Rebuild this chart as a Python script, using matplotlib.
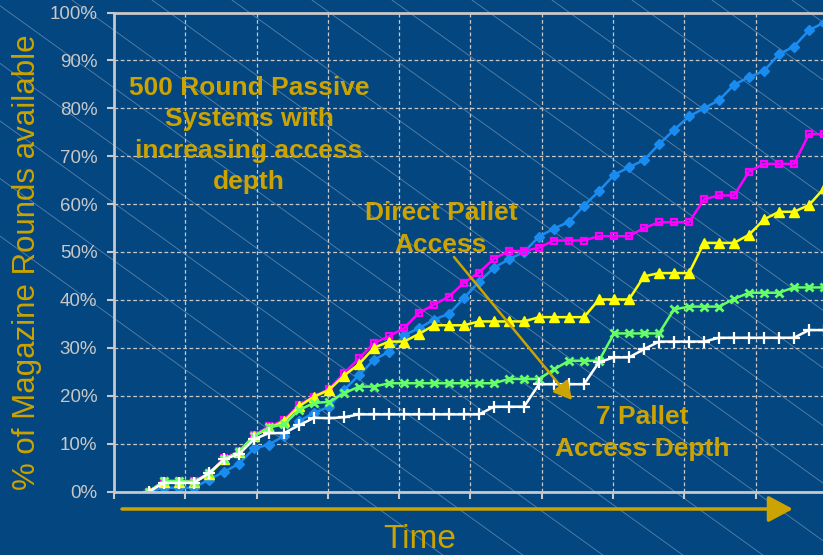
import matplotlib
matplotlib.use('Agg')
import matplotlib.pyplot as plt
from matplotlib.lines import Line2D
from matplotlib.patches import FancyArrowPatch
import numpy as np

plt.rcParams['font.family'] = ['Liberation Sans', 'DejaVu Sans']

# % of magazine rounds available at each time step, per access depth
direct = [0, 0.8, 0.8, 0.8, 2.5, 4.1, 5.8, 9.0, 9.8, 11.6, 14.7, 16.4, 17.7,
          21.2, 24.3, 27.5, 29.2, 32.6, 34.1, 35.9, 37.1, 40.4, 43.8, 46.7, 48.5,
          50.0, 53.2, 54.9, 56.3, 59.7, 62.7, 66.1, 67.7, 69.2, 72.5, 75.5, 78.3,
          80.0, 81.7, 84.9, 86.5, 87.8, 91.3, 92.9, 96.3, 97.9]
depth_a = [0, 2.2, 2.2, 2.2, 3.8, 6.9, 8.4, 11.8, 13.6, 14.9, 18.1, 19.8, 21.4,
           24.7, 27.8, 31.0, 32.4, 34.1, 37.3, 39.0, 40.7, 43.6, 45.7, 48.6, 50.2,
           50.2, 50.9, 52.4, 52.4, 52.4, 53.3, 53.3, 53.3, 55.0, 56.2, 56.2, 56.2,
           61.0, 61.8, 61.8, 66.8, 68.4, 68.4, 68.4, 74.6, 74.6]
depth_b = [0, 2.0, 2.0, 2.0, 3.6, 6.7, 8.2, 11.6, 13.2, 14.7, 17.8, 19.8, 21.2,
           24.2, 26.6, 30.0, 31.3, 31.3, 32.9, 34.7, 34.7, 34.7, 35.5, 35.5, 35.5,
           35.5, 36.4, 36.4, 36.4, 36.4, 40.1, 40.1, 40.1, 44.9, 45.6, 45.6, 45.6,
           51.9, 51.9, 51.9, 53.6, 56.8, 58.4, 58.4, 59.8, 63.3]
depth_c = [0, 2.2, 2.2, 2.0, 3.8, 6.7, 8.3, 11.6, 13.4, 14.0, 17.0, 18.5, 18.7,
           20.5, 21.9, 21.9, 22.6, 22.6, 22.6, 22.6, 22.6, 22.6, 22.6, 22.6, 23.5,
           23.5, 23.5, 25.5, 27.3, 27.3, 27.3, 33.0, 33.0, 33.0, 33.0, 38.0, 38.6,
           38.6, 38.6, 40.2, 41.5, 41.5, 41.5, 42.6, 42.6, 42.6]
depth_7 = [0, 1.8, 1.8, 1.8, 3.8, 6.7, 7.8, 10.9, 12.2, 12.2, 13.8, 15.4, 15.3,
           15.5, 16.1, 16.1, 16.1, 16.1, 16.1, 16.1, 16.1, 16.1, 16.1, 17.7, 17.7,
           17.7, 22.4, 22.4, 22.4, 22.4, 27.0, 28.0, 28.0, 29.7, 31.3, 31.3, 31.3,
           31.3, 32.1, 32.1, 32.1, 32.1, 32.1, 32.1, 33.7, 33.7]
steps = np.arange(len(direct))

bg = '#04467f'
gold = '#cca300'
grey = '#c8c8c8'

fig = plt.figure(figsize=(8.23, 5.55), dpi=100, facecolor=bg)

# diagonal background stripes
for x0 in np.arange(-10 * 80 + 472, 823, 80):
    x1 = x0 + 555 / 0.72
    fig.add_artist(Line2D([x0 / 823, x1 / 823], [1, 0], transform=fig.transFigure,
                          color='#a9bfd6', lw=0.6, alpha=0.5, zorder=-5))

ax = fig.add_axes([114 / 823, 63.5 / 555, 713 / 823, 479 / 555])
ax.patch.set_visible(False)

ax.plot(steps, direct, color='#1a8cf0', lw=1.8, marker='D', ms=5.5, zorder=3)
ax.plot(steps, depth_a, color='#ff00ff', lw=1.8, marker='s', ms=5,
        mfc='none', mew=1.6, zorder=4)
ax.plot(steps, depth_b, color='#ffff00', lw=1.8, marker='^', ms=7.5, zorder=5)
ax.plot(steps, depth_c, color='#66ff66', lw=1.8, marker='x', ms=6, mew=2, zorder=6)
ax.plot(steps, depth_7, color='white', lw=1.8, marker='+', ms=8, mew=1.6, zorder=7)

x_start, x_step = -35 / 15, 71.3 / 15
ax.set_xlim(x_start, x_start + 10 * x_step)
ax.set_xticks(x_start + x_step * np.arange(11))
ax.set_xticklabels([])
ax.set_ylim(0, 100)
ax.set_yticks(np.arange(0, 101, 10))
ax.set_yticklabels([f'{v}%' for v in range(0, 101, 10)])

ax.grid(True, color=grey, lw=0.9, linestyle=(0, (3, 2)))
ax.set_axisbelow(True)
for side in ['left', 'top', 'bottom']:
    ax.spines[side].set_color(grey)
    ax.spines[side].set_linewidth(2)
    ax.spines[side].set_zorder(8)
ax.spines['right'].set_visible(False)
ax.tick_params(axis='both', direction='out', color=grey, width=1.5, length=5)
ax.tick_params(axis='y', labelcolor=grey, labelsize=13.5, pad=7)

fig.text(27 / 823, 1 - 262 / 555, '% of Magazine Rounds available', rotation=90,
         ha='center', va='center', color=gold, fontsize=22.5)
fig.text(420 / 823, 1 - 539 / 555, 'Time', ha='center', va='center',
         color=gold, fontsize=24)

# time arrow under the axis
fig.add_artist(FancyArrowPatch((122 / 823, 1 - 509 / 555), (793 / 823, 1 - 509 / 555),
                               transform=fig.transFigure, color=gold, lw=2.5,
                               arrowstyle='-|>,head_length=15,head_width=8',
                               mutation_scale=1, shrinkA=0, shrinkB=0))

bold = dict(ha='center', va='center', color=gold, fontsize=19,
            fontweight='bold', linespacing=1.4)
fig.text(249 / 823, 1 - 135 / 555,
         '500 Round Passive\nSystems with\nincreasing access\ndepth', **bold)
fig.text(441 / 823, 1 - 229 / 555, 'Direct Pallet\nAccess', **bold)
fig.text(642 / 823, 1 - 433 / 555, '7 Pallet\nAccess Depth', **bold)

fig.add_artist(FancyArrowPatch((454 / 823, 1 - 257 / 555), (572 / 823, 1 - 400 / 555),
                               transform=fig.transFigure, color=gold, lw=1.8,
                               arrowstyle='-|>,head_length=11,head_width=6',
                               mutation_scale=1, shrinkA=0, shrinkB=0, zorder=9))

fig.savefig('out.png', dpi=100, facecolor=bg)
